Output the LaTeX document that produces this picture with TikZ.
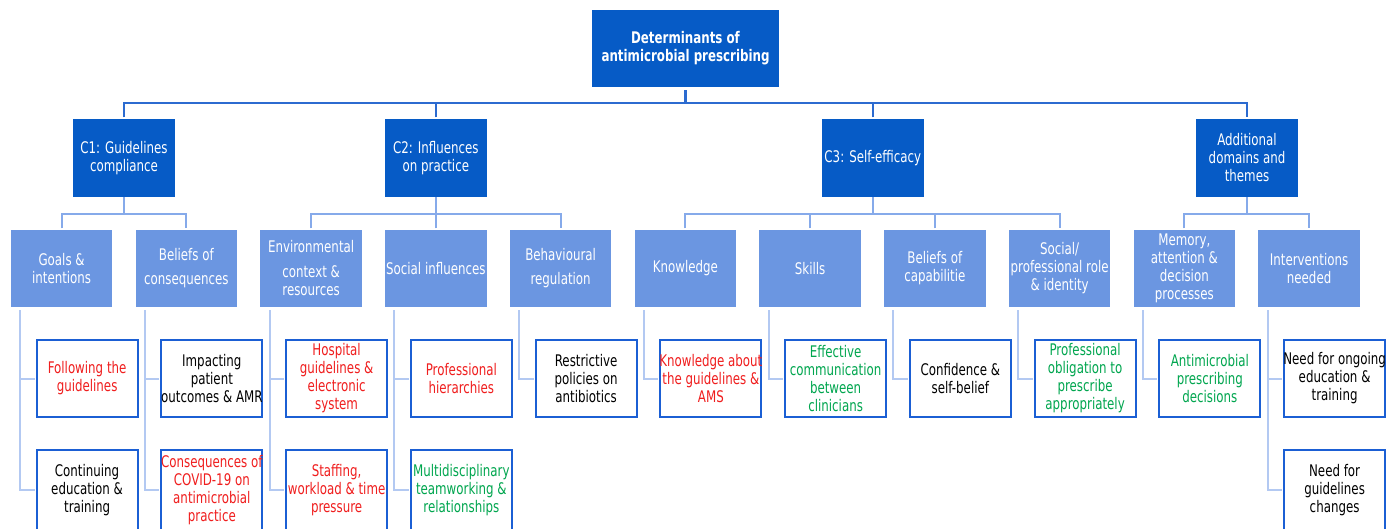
\documentclass[tikz,border=0pt]{standalone}
\usepackage{fontspec}
\newfontfamily\dfont[FakeStretch=0.74]{DejaVu Sans}
\newcommand\ov[1]{\makebox[0pt]{#1}}
\definecolor{dkblue}{HTML}{065BC6}
\definecolor{ltblue}{HTML}{6B96E1}
\definecolor{leafblue}{HTML}{1B5FD4}
\definecolor{busblue}{HTML}{2C6BD0}
\definecolor{midline}{HTML}{86AAEA}
\definecolor{lightline}{HTML}{B3C9F2}
\definecolor{txtred}{HTML}{F01E1E}
\definecolor{txtgreen}{HTML}{00A64F}
\begin{document}
\begin{tikzpicture}[x=1pt,y=-1pt,
  every node/.style={inner sep=0pt, align=center, font=\dfont\fontsize{16}{18}\selectfont},
  topbox/.style={fill=dkblue, text=white, font=\dfont\bfseries\fontsize{16}{18}\selectfont, minimum width=187pt, minimum height=77pt},
  catbox/.style={fill=dkblue, text=white, minimum width=102pt, minimum height=78pt},
  dombox/.style={fill=ltblue, text=white, minimum width=101.5pt, minimum height=77pt},
  leafa/.style={draw=leafblue, line width=2pt, fill=white, minimum width=101pt, minimum height=77pt},
  leafb/.style={draw=leafblue, line width=2pt, fill=white, minimum width=101pt, minimum height=80pt},
  red/.style={text=txtred}, green/.style={text=txtgreen}, black/.style={text=black},
  busln/.style={draw=busblue, line width=2.5pt},
  midln/.style={draw=midline, line width=2pt},
  leafln/.style={draw=lightline, line width=2pt}
]
\useasboundingbox (0,0) rectangle (1400,528);
\fill[white] (0,0) rectangle (1400,528);

% top
\node[topbox] (top) at (685.5,48.5) {Determinants of\\\ov{antimicrobial prescribing}};
% categories
\node[catbox] (c1) at (124,158) {\ov{C1: Guidelines}\\compliance};
\node[catbox] (c2) at (435.85,158) {\ov{C2: Influences}\\on practice};
\node[catbox] (c3) at (872.8,158) {\ov{C3: Self-efficacy}};
\node[catbox] (ca) at (1247,158) {Additional\\\ov{domains and}\\themes};

% domains
\node[dombox] (d0) at (61.6,268.5) {Goals \&\\intentions};
\node[dombox] (d1) at (186.35,268.5) {Beliefs of\\[6pt]\ov{consequences}};
\node[dombox] (d2) at (311.1,268.5) {\ov{Environmental}\\[7pt]context \&\\resources};
\node[dombox] (d3) at (435.85,268.5) {\ov{Social influences}};
\node[dombox] (d4) at (560.6,268.5) {Behavioural\\[6pt]regulation};
\node[dombox] (d5) at (685.35,268.5) {Knowledge};
\node[dombox] (d6) at (810.1,268.5) {Skills};
\node[dombox] (d7) at (934.85,268.5) {Beliefs of\\capabilitie};
\node[dombox] (d8) at (1059.6,268.5) {Social/\\\ov{professional role}\\\& identity};
\node[dombox] (d9) at (1184.35,268.5) {Memory,\\attention \&\\decision\\processes};
\node[dombox] (d10) at (1309.1,268.5) {\ov{Interventions}\\needed};

% leaves
\node[leafa,red] (l0a) at (87.1,378.5) {Following the\\guidelines};
\node[leafb,black] (l0b) at (87.1,490) {Continuing\\education \&\\training};
\node[leafa,black] (l1a) at (211.85,378.5) {Impacting\\patient\\\ov{outcomes \& AMR}};
\node[leafb,red] (l1b) at (211.85,490) {\ov{Consequences of}\\COVID-19 on\\antimicrobial\\practice};
\node[leafa,red] (l2a) at (336.6,378.5) {Hospital\\guidelines \&\\electronic\\system};
\node[leafb,red] (l2b) at (336.6,490) {Staffing,\\\ov{workload \& time}\\pressure};
\node[leafa,red] (l3a) at (461.35,378.5) {Professional\\hierarchies};
\node[leafb,green] (l3b) at (461.35,490) {\ov{Multidisciplinary}\\\ov{teamworking \&}\\relationships};
\node[leafa,black] (l4a) at (586.1,378.5) {Restrictive\\policies on\\antibiotics};
\node[leafa,red] (l5a) at (710.85,378.5) {\ov{Knowledge about}\\\ov{the guidelines \&}\\AMS};
\node[leafa,green] (l6a) at (835.6,378.5) {Effective\\\ov{communication}\\between\\clinicians};
\node[leafa,black] (l7a) at (960.35,378.5) {Confidence \&\\self-belief};
\node[leafa,green] (l8a) at (1085.1,378.5) {Professional\\obligation to\\prescribe\\\ov{appropriately}};
\node[leafa,green] (l9a) at (1209.85,378.5) {Antimicrobial\\prescribing\\decisions};
\node[leafa,black] (l10a) at (1334.6,378.5) {\ov{Need for ongoing}\\education \&\\training};
\node[leafb,black] (l10b) at (1334.6,490) {Need for\\guidelines\\changes};

% top bus
\coordinate (bus) at (685.5,103);
\draw[busln] ([yshift=-3pt]top.south) -- (bus);
\draw[busln] ([yshift=1.5pt]c1.north) -- (c1.north |- bus) -- (ca.north |- bus) -- ([yshift=1.5pt]ca.north);
\draw[busln] ([yshift=1.5pt]c2.north) -- (c2.north |- bus);
\draw[busln] ([yshift=1.5pt]c3.north) -- (c3.north |- bus);

% level-2 buses
\coordinate (b2) at (0,213.5);
\draw[midln] (c1.south) -- (c1.south |- b2);
\draw[midln] ([yshift=1.5pt]d0.north) -- (d0.north |- b2) -- (d1.north |- b2) -- ([yshift=1.5pt]d1.north);
\draw[midln] (c2.south) -- (c2.south |- b2);
\draw[midln] ([yshift=1.5pt]d2.north) -- (d2.north |- b2) -- (d4.north |- b2) -- ([yshift=1.5pt]d4.north);
\draw[midln] ([yshift=1.5pt]d3.north) -- (d3.north |- b2);
\draw[midln] (c3.south) -- (c3.south |- b2);
\draw[midln] ([yshift=1.5pt]d5.north) -- (d5.north |- b2) -- (d8.north |- b2) -- ([yshift=1.5pt]d8.north);
\draw[midln] ([yshift=1.5pt]d6.north) -- (d6.north |- b2);
\draw[midln] ([yshift=1.5pt]d7.north) -- (d7.north |- b2);
\draw[midln] (ca.south) -- (ca.south |- b2);
\draw[midln] ([yshift=1.5pt]d9.north) -- (d9.north |- b2) -- (d10.north |- b2) -- ([yshift=1.5pt]d10.north);

% leaf connectors
\foreach \d/\l in {d0/l0b,d0/l0a,d1/l1b,d1/l1a,d2/l2b,d2/l2a,d3/l3b,d3/l3a,d4/l4a,d5/l5a,d6/l6a,d7/l7a,d8/l8a,d9/l9a,d10/l10b,d10/l10a}{
  \draw[leafln] ([xshift=9.5pt,yshift=-3pt]\d.south west) |- ([xshift=-1pt]\l.west);
}
\end{tikzpicture}
\end{document}
